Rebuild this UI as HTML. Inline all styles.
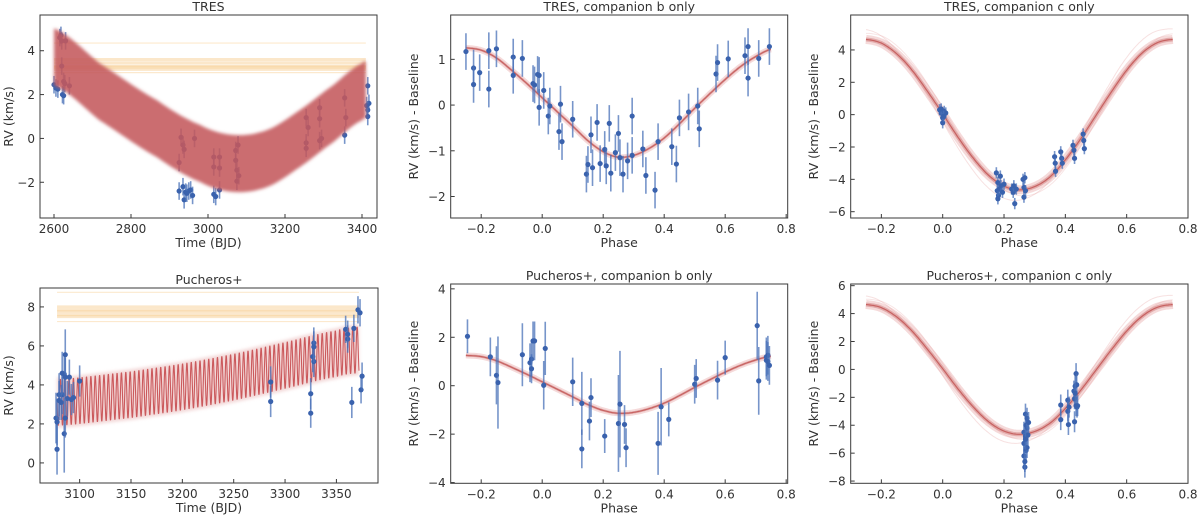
<!DOCTYPE html>
<html><head><meta charset="utf-8">
<style>
html,body{margin:0;padding:0;background:#fff;}
svg{display:block;font-family:"DejaVu Sans","Liberation Sans",sans-serif;}
</style></head>
<body>
<svg id="fig" width="1200" height="520" viewBox="0 0 1200 520" xmlns="http://www.w3.org/2000/svg">
<defs>
<filter id="soft" x="-5%" y="-5%" width="110%" height="110%"><feGaussianBlur stdDeviation="1.6"/></filter>
</defs>
</svg>
<script>
// ---------- DATA ----------
const tresTime = [2600,2605,2610,2615,2618,2620,2622,2625,2630,2640,2625,2620,2628,
 2925,2935,2938,2942,2950,2955,2960,2945,3015,3020,
 2925,2930,2935,2938,2965,3015,3015,3030,3030,3030,3072,3072,3075,3078,3075,3080,
 3255,3255,3255,3260,3290,3290,3290,3295,3355,3355,3358,3415,3418,3415,3415,3412];
const tresRV = [2.45,2.3,2.25,4.6,4.7,4.45,2.0,1.95,4.45,2.4,2.6,3.3,2.5,
 -2.4,-2.2,-2.8,-2.45,-2.4,-2.35,-2.6,-2.5,-2.55,-2.65,
 -1.1,0.05,-0.3,-0.5,0.0,-0.85,-1.3,-0.85,-1.35,-2.35,-0.55,-1.0,-1.45,-0.3,-1.95,-1.7,
 0.95,-0.2,-0.45,0.5,1.4,0.9,-0.1,0.0,1.85,0.15,0.95,2.4,1.6,1.3,1.0,1.5];
const tresModelT = [2600,2719,2867,2980,3066,3153,3239,3326,3400,3410];
const tresModelC = [3.72,2.12,0.45,-0.69,-1.14,-0.92,0.0,1.14,2.12,2.2];
const tresModelHalfWidth = 1.3;
const tresOffsetLevels = [4.35,3.6,3.45,3.3,3.25,3.15,3.0];

const pucTime = [3077,3078,3078,3080,3080,3083,3082,3085,3083,3086,3085,3086,3088,3086,3090,3092,3094,3100,
 3286,3286,3325,3325,3327,3328,3328,3328,3359,3361,3361,3365,3367,3371,3373,3374,3375];
const pucRV = [2.3,0.7,2.1,3.5,3.2,3.5,3.1,4.55,4.6,5.55,1.5,4.4,3.3,2.3,4.4,3.25,3.35,4.2,
 3.15,4.15,2.55,3.55,5.45,5.2,6.15,5.95,6.85,6.35,6.6,3.1,6.9,7.85,7.7,3.75,4.45];
const pucErr = [1.3,1.3,1.2,1.1,1.0,1.0,0.9,1.1,1.1,1.3,2.0,1.0,0.9,1.0,0.9,0.8,0.8,0.8,
 0.8,0.8,0.75,0.8,0.8,0.8,0.8,0.8,0.7,0.7,0.7,0.8,0.7,0.7,0.7,0.7,0.7];
const pucModelT = [3078,3150,3200,3250,3300,3350,3372];
const pucModelC = [3.1,3.5,3.9,4.4,5.0,5.6,5.8];
const pucModelHalfWidth = 1.3;
const pucPeriodB = 4.25;
const pucOffsetLevels = [8.75,8.0,7.85,7.75,7.6,7.5,7.25];

const phaseGrid = [-0.25,-0.2,-0.15,-0.1,-0.05,0,0.05,0.1,0.15,0.2,0.25,0.3,0.35,0.4,0.45,0.5,0.55,0.6,0.65,0.7,0.75];
const modelB = [1.25,1.2,1.03,0.76,0.47,0.16,-0.15,-0.46,-0.78,-1.02,-1.14,-1.1,-0.95,-0.72,-0.41,-0.07,0.25,0.56,0.84,1.06,1.22];
const modelC = [4.65,4.42,3.76,2.75,1.45,0.05,-1.4,-2.7,-3.75,-4.42,-4.65,-4.45,-3.85,-2.8,-1.5,-0.05,1.4,2.75,3.8,4.45,4.65];

const tbPhase = [-0.25,-0.225,-0.225,-0.205,-0.175,-0.175,-0.15,-0.095,-0.095,-0.065,-0.03,-0.025,-0.015,-0.01,-0.01,0.005,0.02,0.025,0.055,0.06,0.065,0.1,0.145,0.15,0.16,0.165,0.18,0.19,0.205,0.21,0.22,0.225,0.24,0.25,0.255,0.265,0.28,0.295,0.295,0.33,0.34,0.37,0.38,0.425,0.44,0.45,0.48,0.51,0.515,0.57,0.575,0.61,0.665,0.675,0.675,0.71,0.745];
const tbRV = [1.17,0.81,0.45,0.71,1.19,0.35,1.23,1.05,0.65,1.02,0.47,0.44,0.67,0.65,-0.05,0.32,-0.24,-0.02,-0.58,0.02,-0.8,-0.31,-1.51,-1.3,-0.65,-1.37,-0.38,-1.28,-0.97,-1.33,-0.4,-1.49,-1.04,-0.62,-1.15,-1.51,-1.22,-0.24,-1.1,-0.96,-1.54,-1.86,-0.8,-0.91,-1.29,-0.28,-0.15,-0.02,-0.52,0.68,0.93,1.01,1.08,0.59,1.28,1.02,1.28];

const tcPhase = [-0.01,-0.005,0.0,0.0,0.005,0.01,-0.005,0.003,0.175,0.178,0.18,0.182,0.185,0.19,0.195,0.2,0.18,0.188,0.225,0.23,0.232,0.235,0.24,0.262,0.265,0.265,0.268,0.27,0.365,0.367,0.368,0.385,0.388,0.39,0.425,0.428,0.43,0.458,0.46,0.462];
const tcRV = [0.3,0.1,-0.2,-0.5,0.2,0.1,0.35,-0.1,-3.6,-4.7,-4.2,-5.0,-4.6,-4.4,-4.8,-4.3,-5.2,-3.8,-4.6,-4.8,-4.4,-5.5,-4.6,-4.0,-4.5,-5.1,-3.9,-4.7,-2.6,-3.0,-3.5,-2.3,-2.7,-3.0,-1.9,-2.2,-2.7,-1.2,-1.6,-2.1];

const pbPhase = [-0.245,-0.17,-0.15,-0.145,-0.065,-0.04,-0.035,-0.035,-0.03,-0.025,0.005,0.01,0.1,0.13,0.13,0.155,0.16,0.205,0.25,0.255,0.27,0.275,0.38,0.39,0.415,0.5,0.505,0.575,0.6,0.705,0.71,0.735,0.735,0.74,0.74,0.745];
const pbRV = [2.04,1.19,0.43,0.13,1.28,0.95,1.1,0.7,1.85,1.85,0.02,1.54,0.16,-0.73,-2.61,-1.46,-0.49,-2.08,-1.56,-0.76,-1.6,-2.56,-2.38,-0.87,-1.39,0.06,0.3,0.23,1.16,2.48,0.2,1.19,1.05,1.26,1.0,0.84];
const pbErr = [0.7,0.8,1.2,1.9,1.3,0.8,0.7,0.6,0.8,0.8,1.0,1.1,1.0,1.3,0.8,0.8,0.8,0.7,2.0,2.2,0.8,0.8,1.3,1.6,0.7,0.8,0.8,0.8,0.7,1.4,1.4,0.8,0.8,0.8,0.8,0.8];

const pcPhase = [0.265,0.265,0.265,0.268,0.27,0.27,0.272,0.272,0.275,0.275,0.275,0.278,0.28,0.268,0.27,0.385,0.385,0.408,0.408,0.41,0.412,0.428,0.43,0.43,0.432,0.435,0.435,0.437,0.438,0.432,0.44];
const pcRV = [-4.5,-5.3,-6.2,-7.0,-4.8,-3.2,-4.0,-5.8,-4.2,-3.5,-5.6,-4.7,-3.8,-6.6,-5.0,-2.55,-3.6,-2.2,-3.0,-3.95,-2.7,-1.55,-2.1,-3.75,-1.2,-0.3,-2.6,-1.1,-2.7,-1.7,-2.6];

// ---------- DRAW ----------
const NS = "http://www.w3.org/2000/svg";
const fig = document.getElementById('fig');
function mk(tag, attrs, parent){
  const e = document.createElementNS(NS, tag);
  for (const k in attrs) e.setAttribute(k, attrs[k]);
  (parent||fig).appendChild(e);
  return e;
}
function scale(d0,d1,r0,r1){ return v => r0 + (v-d0)/(d1-d0)*(r1-r0); }
function interp(xs, ys, x){
  if (x<=xs[0]) return ys[0];
  for (let i=1;i<xs.length;i++){
    if (x<=xs[i]){
      const i0=Math.max(0,i-2), i3=Math.min(xs.length-1,i+1);
      const t=(x-xs[i-1])/(xs[i]-xs[i-1]);
      const p0=ys[i0],p1=ys[i-1],p2=ys[i],p3=ys[i3];
      const t2=t*t,t3=t2*t;
      return 0.5*((2*p1)+(-p0+p2)*t+(2*p0-5*p1+4*p2-p3)*t2+(-p0+3*p1-3*p2+p3)*t3);
    }
  }
  return ys[ys.length-1];
}

function axes(p){
  const g = mk('g',{});
  
  
  const sx = scale(p.xd[0],p.xd[1],p.x0,p.x1);
  const sy = scale(p.yd[0],p.yd[1],p.y1,p.y0);
  const cid = 'clip-'+p.name;
  const cp = mk('clipPath',{id:cid},g);
  mk('rect',{x:p.x0,y:p.y0,width:p.x1-p.x0,height:p.y1-p.y0},cp);
  const plot = mk('g',{'clip-path':'url(#'+cid+')'},g);
  
  
  return {g,plot,sx,sy};
}
function frame(p, A){
  const g=A.g;
  const box = mk('rect',{x:p.x0,y:p.y0,width:p.x1-p.x0,height:p.y1-p.y0,fill:'none',stroke:'#3a3a3a','stroke-width':1},g);
  
  
  p.xticks.forEach((v,i)=>{
    const x=A.sx(v);
    mk('line',{x1:x,x2:x,y1:p.y1,y2:p.y1-4,stroke:'#3a3a3a','stroke-width':1},g);
    const t=mk('text',{x:x,y:p.y1+15,'text-anchor':'middle','font-size':12,fill:'#333'},g);
    t.textContent=p.xlabels[i];
    
    
  });
  p.yticks.forEach((v,i)=>{
    const y=A.sy(v);
    mk('line',{x1:p.x0,x2:p.x0+4,y1:y,y2:y,stroke:'#3a3a3a','stroke-width':1},g);
    const t=mk('text',{x:p.x0-5,y:y+4.5,'text-anchor':'end','font-size':12,fill:'#333'},g);
    t.textContent=p.ylabels[i];
    
    
  });
  const tt=mk('text',{x:(p.x0+p.x1)/2,y:p.y0-4,'text-anchor':'middle','font-size':12.5,fill:'#333'},g);
  tt.textContent=p.title;
  
  
  const xl=mk('text',{x:(p.x0+p.x1)/2,y:p.y1+29,'text-anchor':'middle','font-size':12.5,fill:'#333'},g);
  xl.textContent=p.xtitle;
  
  
  const yc=(p.y0+p.y1)/2;
  const yl=mk('text',{x:p.ylx,y:yc,'text-anchor':'middle','font-size':12.5,fill:'#333',transform:'rotate(-90 '+p.ylx+' '+yc+')'},g);
  yl.textContent=p.ytitle;
  
  
}
function points(A, xs, ys, errs, defErr){
  const g=mk('g',{},A.plot);
  
  
  xs.forEach((x,i)=>{
    const e = errs ? errs[i] : defErr;
    const px=A.sx(x), py=A.sy(ys[i]);
    mk('line',{x1:px,x2:px,y1:A.sy(ys[i]-e),y2:A.sy(ys[i]+e),stroke:'#4a72b8','stroke-width':1.6,'stroke-opacity':0.75},g);
    const c=mk('circle',{cx:px,cy:py,r:2.6,fill:'#3a62ad'},g);
    
    
  });
}
function offsetLines(A, levels, t0, t1){
  const g=mk('g',{},A.plot);
  
  
  levels.forEach((v,i)=>{
    const faint = (i===0||i===levels.length-1);
    mk('line',{x1:A.sx(t0),x2:A.sx(t1),y1:A.sy(v),y2:A.sy(v),stroke:faint?'#fbe3c2':'#f7c98a','stroke-width':faint?1.2:3,'stroke-opacity':faint?0.8:0.45},g);
  });
}
function phaseModel(A, vals){
  const g=mk('g',{},A.plot);
  
  
  const build=(mult,shift)=>{
    let d='';
    for(let k=0;k<=200;k++){
      const ph=-0.25+k*0.005;
      const v=interp(phaseGrid,vals,ph+shift)*mult;
      d+=(k?'L':'M')+A.sx(ph).toFixed(1)+' '+A.sy(v).toFixed(1);
    }
    return d;
  };
  return {g,build};
}
function drawPhase(A, vals, faint){
  const m=phaseModel(A, vals);
  if(faint){
    mk('path',{d:m.build(1.14,0.015),fill:'none',stroke:'#e8a8a8','stroke-width':1,'stroke-opacity':0.35},m.g);
    mk('path',{d:m.build(1.08,-0.012),fill:'none',stroke:'#e8a8a8','stroke-width':1,'stroke-opacity':0.3},m.g);
  }
  mk('path',{d:m.build(1,0),fill:'none',stroke:'#e7a3a3','stroke-width':faint?9:6,'stroke-opacity':0.4},m.g);
  mk('path',{d:m.build(1,0),fill:'none',stroke:'#d07a7a','stroke-width':faint?4:2.5,'stroke-opacity':0.5},m.g);
  const main=mk('path',{d:m.build(1,0),fill:'none',stroke:'#c0504f','stroke-width':1.2,'stroke-opacity':0.8},m.g);
  
  
}

// ---- Panel 1 ----
const P1={name:'panel-tres-time',x0:40,x1:377,y0:15,y1:218,xd:[2563.6,3439],yd:[-3.63,5.63],
 xticks:[2600,2800,3000,3200,3400],xlabels:['2600','2800','3000','3200','3400'],
 yticks:[-2,0,2,4],ylabels:['\u22122','0','2','4'],title:'TRES',xtitle:'Time (BJD)',ytitle:'RV (km/s)',ylx:13};
{
  const A=axes(P1);
  offsetLines(A,tresOffsetLevels,2600,3410);
  points(A,tresTime,tresRV,null,0.4);
  let up='',lo=[];
  for(let t=2600;t<=3410;t+=5){
    const c=interp(tresModelT,tresModelC,t);
    up+=(t===2600?'M':'L')+A.sx(t).toFixed(1)+' '+A.sy(c+tresModelHalfWidth).toFixed(1);
    lo.unshift('L'+A.sx(t).toFixed(1)+' '+A.sy(c-tresModelHalfWidth).toFixed(1));
  }
  const band=mk('path',{d:up+lo.join('')+'Z',fill:'#c4595c','fill-opacity':0.88,filter:'url(#soft)'},A.plot);
  
  
  frame(P1,A);
}
// ---- Panel 4 ----
const P4={name:'panel-pucheros-time',x0:40,x1:378,y0:288,y1:483,xd:[3061.4,3390.5],yd:[-1.03,8.97],
 xticks:[3100,3150,3200,3250,3300,3350],xlabels:['3100','3150','3200','3250','3300','3350'],
 yticks:[0,2,4,6,8],ylabels:['0','2','4','6','8'],title:'Pucheros+',xtitle:'Time (BJD)',ytitle:'RV (km/s)',ylx:13};
{
  const A=axes(P4);
  offsetLines(A,pucOffsetLevels,3078,3372);
  let up='',lo=[];
  for(let t=3078;t<=3372;t+=3){
    const c=interp(pucModelT,pucModelC,t);
    up+=(t===3078?'M':'L')+A.sx(t).toFixed(1)+' '+A.sy(c+pucModelHalfWidth).toFixed(1);
    lo.unshift('L'+A.sx(t).toFixed(1)+' '+A.sy(c-pucModelHalfWidth).toFixed(1));
  }
  const band=mk('path',{d:up+lo.join('')+'Z',fill:'#eab8b8','fill-opacity':0.55,filter:'url(#soft)'},A.plot);
  
  
  let d='';
  for(let t=3078;t<=3372;t+=0.25){
    const c=interp(pucModelT,pucModelC,t);
    const v=c-pucModelHalfWidth*0.92*Math.sin(2*Math.PI*(t-3078)/pucPeriodB);
    d+=(t===3078?'M':'L')+A.sx(t).toFixed(2)+' '+A.sy(v).toFixed(2);
  }
  const zz=mk('path',{d:d,fill:'none',stroke:'#c0393d','stroke-width':1.1,'stroke-opacity':0.8},A.plot);
  
  
  points(A,pucTime,pucRV,pucErr,0);
  frame(P4,A);
}
const phX=['\u22120.2','0.0','0.2','0.4','0.6','0.8'], phV=[-0.2,0,0.2,0.4,0.6,0.8];
const P2={name:'panel-tres-b',x0:450.7,x1:787.7,y0:15,y1:218,xd:[-0.3,0.805],yd:[-2.47,1.97],
 xticks:phV,xlabels:phX,yticks:[-2,-1,0,1],ylabels:['\u22122','\u22121','0','1'],
 title:'TRES, companion b only',xtitle:'Phase',ytitle:'RV (km/s) - Baseline',ylx:418};
{ const A=axes(P2); drawPhase(A,modelB,false); points(A,tbPhase,tbRV,null,0.4); frame(P2,A); }
const P3={name:'panel-tres-c',x0:850.7,x1:1188,y0:15,y1:218,xd:[-0.3,0.8],yd:[-6.39,6.16],
 xticks:phV,xlabels:phX,yticks:[-6,-4,-2,0,2,4],ylabels:['\u22126','\u22124','\u22122','0','2','4'],
 title:'TRES, companion c only',xtitle:'Phase',ytitle:'RV (km/s) - Baseline',ylx:818};
{ const A=axes(P3); drawPhase(A,modelC,true); points(A,tcPhase,tcRV,null,0.35); frame(P3,A); }
const P5={name:'panel-pucheros-b',x0:450.7,x1:787.7,y0:284,y1:483.3,xd:[-0.3,0.805],yd:[-4.03,4.2],
 xticks:phV,xlabels:phX,yticks:[-4,-2,0,2,4],ylabels:['\u22124','\u22122','0','2','4'],
 title:'Pucheros+, companion b only',xtitle:'Phase',ytitle:'RV (km/s) - Baseline',ylx:418};
{ const A=axes(P5); drawPhase(A,modelB,false); points(A,pbPhase,pbRV,pbErr,0); frame(P5,A); }
const P6={name:'panel-pucheros-c',x0:850.7,x1:1188,y0:284,y1:483.3,xd:[-0.3,0.8],yd:[-8.16,6.12],
 xticks:phV,xlabels:phX,yticks:[-8,-6,-4,-2,0,2,4,6],ylabels:['\u22128','\u22126','\u22124','\u22122','0','2','4','6'],
 title:'Pucheros+, companion c only',xtitle:'Phase',ytitle:'RV (km/s) - Baseline',ylx:818};
{ const A=axes(P6); drawPhase(A,modelC,true); points(A,pcPhase,pcRV,null,0.75); frame(P6,A); }
</script>
</body></html>
